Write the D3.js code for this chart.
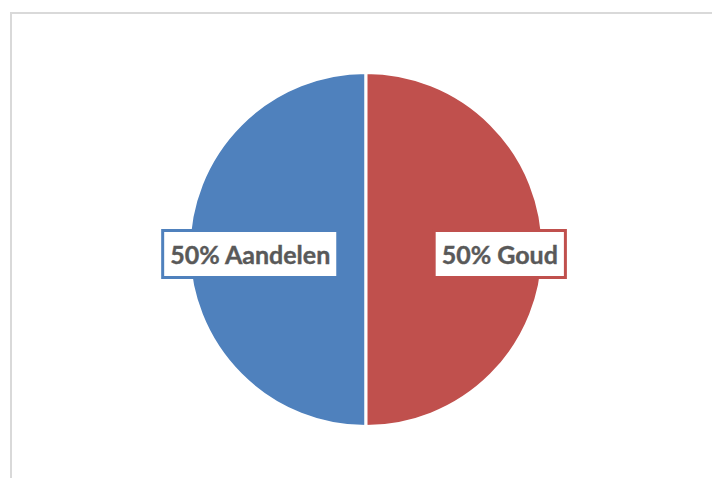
<!DOCTYPE html>
<html>
<head>
<meta charset="utf-8">
<script src="https://cdn.jsdelivr.net/npm/d3@7/dist/d3.min.js"></script>
<style>
  html, body { margin: 0; padding: 0; background: #fff; }
  svg { display: block; }
</style>
</head>
<body>
<svg id="chart" width="712" height="478"></svg>
<script>
const categories = ["Aandelen", "Goud"];
const values = [50, 50];
const colors = ["#4F81BD", "#C0504D"];

const W = 712, H = 478;
const svg = d3.select("#chart");

// chart frame
svg.append("rect")
  .attr("x", 11).attr("y", 13)
  .attr("width", W + 20).attr("height", H + 20)
  .attr("fill", "#fff")
  .attr("stroke", "#d9d9d9").attr("stroke-width", 2);

const cx = 366, cy = 249.5, r = 177;
const total = d3.sum(values);
const data = categories.map((c, i) => ({ cat: c, value: values[i], color: colors[i] }));

const pie = d3.pie().value(d => d.value).sort(null)
  .startAngle(Math.PI).endAngle(3 * Math.PI);
const arc = d3.arc().innerRadius(0).outerRadius(r);
const labelArc = d3.arc().innerRadius(r * 0.705).outerRadius(r * 0.705);

const g = svg.append("g").attr("transform", `translate(${cx},${cy})`);
const arcs = pie(data);

g.selectAll("path.slice").data(arcs).enter().append("path")
  .attr("class", "slice")
  .attr("d", arc)
  .attr("fill", d => d.data.color)
  .attr("stroke", "#fff").attr("stroke-width", 3).attr("stroke-linejoin", "round");

const fmt = d3.format(".0%");
const labels = g.selectAll("g.lbl").data(arcs).enter().append("g")
  .attr("class", "lbl")
  .attr("transform", d => { const c = labelArc.centroid(d); return `translate(${c[0] + 9},${c[1] + 4})`; });

const texts = labels.append("text")
  .attr("text-anchor", "middle")
  .attr("dominant-baseline", "central")
  .attr("font-family", "Lato, 'Open Sans', sans-serif")
  .attr("font-weight", "bold")
  .attr("font-size", 25)
  .attr("fill", "#595959")
  .attr("stroke", "#595959").attr("stroke-width", 0.4)
  .text(d => `${fmt(d.data.value / total)} ${d.data.cat}`);

texts.each(function(d) {
  const bb = this.getBBox();
  const padX = 7.5;
  d3.select(this.parentNode).insert("rect", "text")
    .attr("x", bb.x - padX)
    .attr("y", -23)
    .attr("width", bb.width + 2 * padX)
    .attr("height", 47)
    .attr("fill", "#fff")
    .attr("stroke", d.data.color)
    .attr("stroke-width", 3);
});
</script>
</body>
</html>
